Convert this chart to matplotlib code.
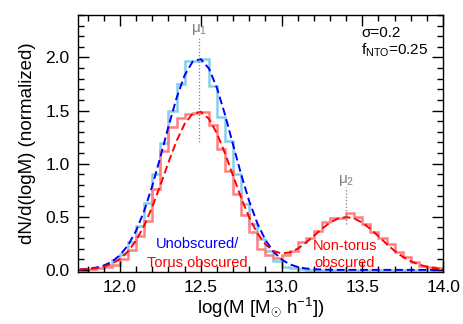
import numpy as np
import matplotlib
matplotlib.use('Agg')
import matplotlib.pyplot as plt
from matplotlib.ticker import MultipleLocator

plt.rcParams['font.family'] = ['Liberation Sans', 'DejaVu Sans']
plt.rcParams['mathtext.fontset'] = 'custom'
plt.rcParams['mathtext.rm'] = 'Liberation Sans'
plt.rcParams['mathtext.it'] = 'Liberation Sans:italic'
plt.rcParams['mathtext.bf'] = 'Liberation Sans:bold'

# model curves, sampled every 0.05 in logM
x_model = np.linspace(11.75, 14.0, 46)
blue_model = [0.004, 0.010, 0.021, 0.041, 0.078, 0.138, 0.233, 0.370, 0.557, 0.792,
              1.064, 1.35, 1.618, 1.833, 1.962, 1.985, 1.897, 1.713, 1.461, 1.178,
              0.898, 0.646, 0.439, 0.282, 0.171, 0.098, 0.053, 0.027, 0.013, 0.006,
              0.003, 0.001, 0, 0, 0, 0, 0, 0, 0, 0,
              0, 0, 0, 0, 0, 0]
red_model = [0.003, 0.0075, 0.016, 0.031, 0.0585, 0.1035, 0.175, 0.2775, 0.418, 0.594,
             0.798, 1.0125, 1.2135, 1.375, 1.4715, 1.489, 1.423, 1.285, 1.097, 0.885,
             0.678, 0.493, 0.345, 0.241, 0.178, 0.155, 0.164, 0.199, 0.255, 0.320,
             0.388, 0.445, 0.4836, 0.4975, 0.4836, 0.4443, 0.3856, 0.3159, 0.2448, 0.1791,
             0.1239, 0.0811, 0.0502, 0.0293, 0.0161, 0.0084]

# histograms, bins of 0.05
bin_edges = np.linspace(11.75, 14.0, 46)
blue_hist = [0.0, 0.01, 0.02, 0.05, 0.09, 0.15, 0.26, 0.41, 0.63, 0.90,
             1.19, 1.50, 1.75, 1.97, 1.97, 1.99, 1.73, 1.44, 1.21, 0.90,
             0.62, 0.43, 0.29, 0.18, 0.08, 0.03, 0.02, 0.01, 0, 0,
             0, 0, 0, 0, 0, 0, 0, 0, 0, 0,
             0, 0, 0, 0, 0]
red_hist = [0.0, 0.01, 0.02, 0.03, 0.05, 0.10, 0.19, 0.32, 0.46, 0.76,
            1.12, 1.35, 1.43, 1.47, 1.48, 1.49, 1.36, 1.14, 0.93, 0.71,
            0.52, 0.36, 0.20, 0.14, 0.11, 0.14, 0.18, 0.26, 0.30, 0.37,
            0.45, 0.49, 0.49, 0.54, 0.50, 0.43, 0.36, 0.30, 0.24, 0.17,
            0.12, 0.07, 0.04, 0.03, 0.02]

mu1, mu2 = 12.49, 13.4

fig = plt.figure(figsize=(4.63, 3.24), dpi=100)
ax = fig.add_axes([0.1685, 0.1605, 0.7885, 0.7932])

ax.stairs(blue_hist, bin_edges, color='#87CEEB', lw=1.8, baseline=None)
ax.stairs(red_hist, bin_edges, color='#FF8080', lw=1.8, baseline=None)
ax.plot(x_model, blue_model, color='#0000FF', lw=1.4, ls=(0, (4, 2)))
ax.plot(x_model, red_model, color='#FF0000', lw=1.4, ls=(0, (4, 2)))

# peak markers
ax.plot([mu1, mu1], [1.2, 2.2], color='gray', lw=0.9, ls=':')
ax.plot([mu2, mu2], [0.43, 0.78], color='gray', lw=0.9, ls=':')
ax.text(mu1, 2.19, 'μ$_1$', color='gray', ha='center', va='bottom', fontsize=11)
ax.text(mu2, 0.77, 'μ$_2$', color='gray', ha='center', va='bottom', fontsize=11)

ax.text(12.48, 0.18, 'Unobscured/', color='#0000FF', ha='center', va='bottom', fontsize=10.5)
ax.text(12.48, 0.00, 'Torus obscured', color='#FF0000', ha='center', va='bottom', fontsize=10.5)
ax.text(13.39, 0.16, 'Non-torus', color='#FF0000', ha='center', va='bottom', fontsize=10.5)
ax.text(13.39, 0.00, 'obscured', color='#FF0000', ha='center', va='bottom', fontsize=10.5)

ax.text(0.775, 0.903, 'σ=0.2', transform=ax.transAxes, fontsize=11, va='bottom')
ax.text(0.775, 0.828, 'f$_{\\rm NTO}$=0.25', transform=ax.transAxes, fontsize=11, va='bottom')

ax.set_xlim(11.74, 14.0)
ax.set_ylim(-0.02, 2.4)
ax.xaxis.set_major_locator(MultipleLocator(0.5))
ax.xaxis.set_minor_locator(MultipleLocator(0.1))
ax.yaxis.set_major_locator(MultipleLocator(0.5))
ax.yaxis.set_minor_locator(MultipleLocator(0.1))
ax.set_xticks([12.0, 12.5, 13.0, 13.5, 14.0])
ax.set_xticklabels(['12.0', '12.5', '13.0', '13.5', '14.0'])
ax.tick_params(which='both', direction='in', top=True, right=True, labelsize=12.5, width=1)
ax.tick_params(which='major', length=8, pad=6)
ax.tick_params(which='minor', length=4)
for s in ax.spines.values():
    s.set_linewidth(1)

ax.set_xlabel('log(M [M$_{\\odot}$ h$^{-1}$])', fontsize=13.5, labelpad=0)
ax.set_ylabel('dN/d(logM) (normalized)', fontsize=13.5)
ax.yaxis.set_label_coords(-0.115, 0.5)

fig.savefig('out.png', dpi=100)
